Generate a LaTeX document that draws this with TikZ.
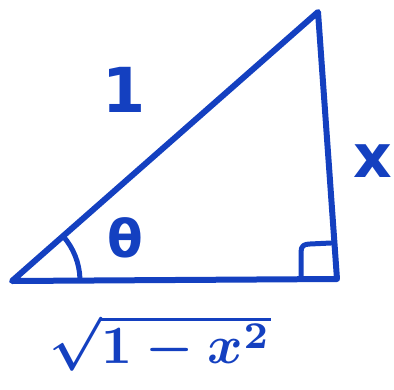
\documentclass[tikz,border=0pt]{standalone}
\usepackage{fontspec}
\setsansfont{DejaVu Sans}
\definecolor{pen}{HTML}{1440C0}
\begin{document}
\begin{tikzpicture}[x=1pt,y=-1pt,
  stroke/.style={draw=pen,line width=6pt,line cap=round,line join=round},
  lbl/.style={text=pen,font=\sffamily\bfseries,inner sep=0pt}]
\useasboundingbox (0,0) rectangle (394,389);
\coordinate (A) at (12,281);
\coordinate (B) at (318,12);
\coordinate (C) at (337,279);
\draw[stroke] (A) -- (B) -- (C) -- cycle;
\draw[stroke,line width=5pt] (301,279) -- (301,252) .. controls (301,246) and (304,244) .. (310,244) -- (331,243);
\draw[stroke,line width=5pt] (A) ++(-41:68) arc (-41:-2:68);
\node[lbl,scale=6.2] (one) at (124,90) {1};
\node[lbl,scale=5.2] (th) at (125,238) {θ};
\node[lbl,scale=6] (x) at (373,161) {x};
\node[lbl,scale=5.4,font=\boldmath] (r) at (160,343) {$\sqrt{1-x^2}$};
\end{tikzpicture}
\end{document}
